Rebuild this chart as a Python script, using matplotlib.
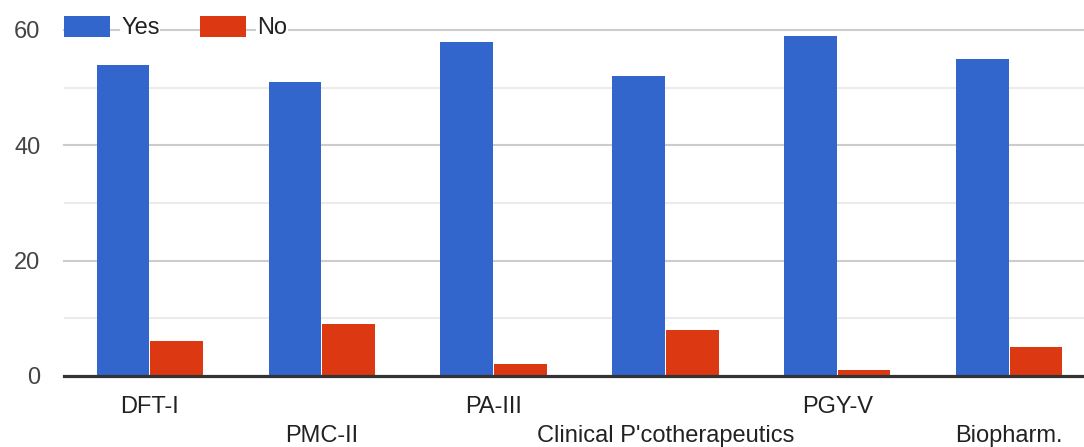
import matplotlib
matplotlib.use("Agg")
import matplotlib.pyplot as plt
from matplotlib.patches import Rectangle
import numpy as np

categories = ["DFT-I", "PMC-II", "PA-III", "Clinical P'cotherapeutics", "PGY-V", "Biopharm."]
yes_vals = [54, 51, 58, 52, 59, 55]
no_vals = [6, 9, 2, 8, 1, 5]
series_names = ["Yes", "No"]
yticks = [0, 20, 40, 60]

BLUE = "#3366cc"
RED = "#dc3912"

plt.rcParams['font.family'] = ['Liberation Sans', 'DejaVu Sans']
FS = 17

fig = plt.figure(figsize=(10.84, 4.47), dpi=100)
W, H = 1084, 447
left_px, right_px = 64, 1084
top_px, base_px = 30, 376
ax = fig.add_axes([left_px / W, (H - base_px) / H, (right_px - left_px) / W, (base_px - top_px) / H])

x = np.arange(len(categories))
bw = 0.306
ax.bar(x - bw / 2 - 0.003, yes_vals, width=bw, color=BLUE, zorder=3)
ax.bar(x + bw / 2 + 0.003, no_vals, width=bw, color=RED, zorder=3)

ax.set_xlim(-0.5, 5.436)
ax.set_ylim(0, 60)

for v in [10, 30, 50]:
    ax.axhline(v, color="#ebebeb", lw=1.5, zorder=1)
for v in [20, 40, 60]:
    ax.axhline(v, color="#cccccc", lw=1.5, zorder=1, clip_on=False)
ax.axhline(0, color="#333333", lw=2.3, zorder=4, clip_on=False)

for s in ax.spines.values():
    s.set_visible(False)
ax.set_xticks([])
ax.set_yticks(yticks)
ax.set_yticklabels([str(t) for t in yticks], fontsize=FS, color="#444444")
ax.tick_params(axis='y', length=0, pad=17)

for i, lab in enumerate(categories):
    off = -22 if i % 2 == 0 else -43.5
    ax.annotate(lab, xy=(i, 0), xycoords=('data', 'axes fraction'),
                xytext=(0, off), textcoords='offset points',
                ha='center', va='center', fontsize=FS, color="#222222",
                annotation_clip=False)

# manual legend on top gridline
def px2ax(px, py):
    return ((px - left_px) / (right_px - left_px), (base_px - py) / (base_px - top_px))

for (x0, name, col, tx) in [(64, series_names[0], BLUE, 121), (200, series_names[1], RED, 257)]:
    ax0, ay0 = px2ax(x0, 37)
    ax1, ay1 = px2ax(x0 + 46, 16)
    ax.add_patch(Rectangle((ax0, ay0), ax1 - ax0, ay1 - ay0, transform=ax.transAxes,
                           facecolor=col, edgecolor='none', zorder=5, clip_on=False))
    tx_a, ty_a = px2ax(tx, 28.5)
    ax.text(tx_a, ty_a, name, transform=ax.transAxes, ha='left', va='center',
            fontsize=FS, color="#222222", zorder=5,
            bbox=dict(facecolor='white', edgecolor='none', pad=0.5))

fig.savefig("out.png", dpi=100)
